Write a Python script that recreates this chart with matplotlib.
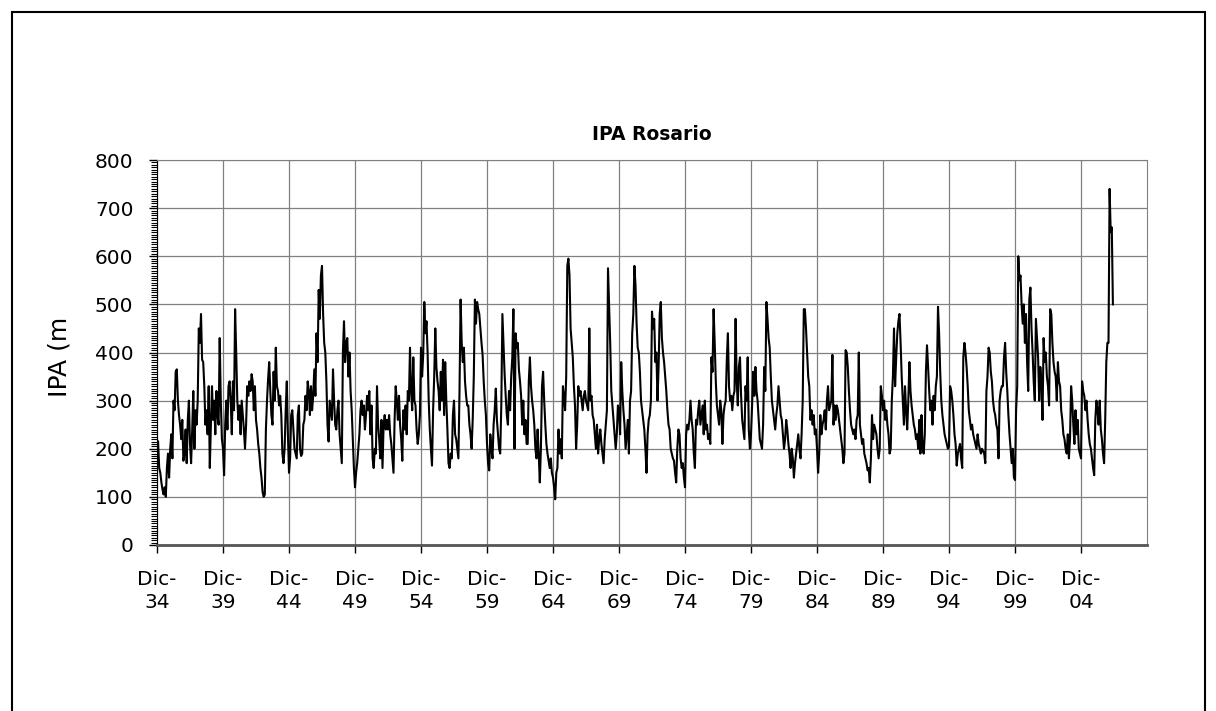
import numpy as np
import matplotlib.pyplot as plt
from matplotlib.ticker import MultipleLocator
from matplotlib.patches import Rectangle
from matplotlib.transforms import Bbox

# monthly IPA values (mm), Jan 1935 .. May 2007
ipa_1935_1944 = [
    215, 160, 150, 130, 115, 105, 120, 100, 160, 190, 140, 200,
    230, 180, 300, 280, 360, 365, 300, 270, 250, 220, 260, 175,
    190, 240, 170, 260, 300, 210, 170, 240, 320, 200, 280, 250,
    300, 450, 420, 480, 385, 380, 330, 250, 280, 230, 330, 160,
    250, 330, 260, 300, 230, 320, 270, 250, 430, 300, 220, 200,
    145, 250, 300, 240, 330, 340, 300, 230, 340, 280, 490, 400,
    300, 260, 290, 230, 300, 270, 240, 200, 250, 330, 310, 340,
    320, 355, 340, 280, 330, 260, 240, 210, 190, 160, 140, 110,
    100, 105, 240, 300, 345, 380, 320, 270, 250, 360, 300, 410,
    330, 320, 290, 310, 270, 190, 170, 200, 280, 340, 230, 150,
]
ipa_1945_1954 = [
    180, 270, 280, 240, 200, 190, 180, 270, 290, 200, 185, 190,
    250, 260, 310, 280, 340, 320, 270, 330, 280, 310, 365, 310,
    440, 380, 530, 470, 560, 580, 480, 420, 400, 340, 250, 215,
    300, 280, 260, 365, 300, 250, 240, 280, 300, 230, 200, 170,
    400, 465, 380, 420, 430, 350, 400, 320, 280, 220, 160, 120,
    150, 170, 200, 230, 280, 300, 270, 290, 240, 270, 310, 280,
    320, 230, 290, 180, 160, 200, 190, 330, 250, 220, 180, 260,
    160, 250, 270, 240, 260, 240, 270, 230, 210, 180, 150, 260,
    330, 300, 260, 310, 250, 220, 175, 280, 240, 290, 230, 320,
    300, 410, 320, 280, 390, 300, 290, 240, 210, 230, 270, 410,
]
ipa_1955_1964 = [
    350, 395, 505, 440, 465, 400, 300, 240, 200, 165, 280, 350,
    450, 370, 340, 320, 280, 360, 300, 385, 270, 380, 300, 240,
    170, 160, 190, 180, 270, 300, 230, 220, 200, 180, 320, 510,
    420, 380, 410, 340, 310, 290, 290, 250, 230, 200, 260, 350,
    510, 460, 505, 490, 480, 450, 420, 395, 340, 300, 270, 210,
    170, 155, 230, 200, 180, 250, 280, 325, 260, 230, 200, 190,
    290, 480, 420, 355, 310, 270, 250, 320, 280, 350, 390, 490,
    200, 440, 410, 420, 365, 340, 310, 250, 300, 230, 260, 210,
    210, 340, 390, 330, 300, 280, 250, 200, 180, 240, 190, 130,
    200, 330, 360, 300, 250, 210, 190, 175, 160, 180, 150, 140,
]
ipa_1965_1974 = [
    120, 95, 150, 160, 240, 190, 220, 180, 330, 310, 280, 350,
    580, 595, 560, 450, 420, 390, 330, 290, 200, 250, 330, 310,
    320, 300, 280, 310, 320, 300, 290, 280, 450, 300, 310, 270,
    260, 230, 200, 250, 190, 220, 240, 210, 190, 170, 220, 250,
    280, 575, 500, 420, 320, 290, 260, 230, 200, 230, 290, 280,
    230, 380, 320, 280, 250, 200, 230, 260, 190, 300, 320, 440,
    480, 580, 540, 460, 410, 400, 360, 300, 280, 260, 240, 200,
    150, 230, 260, 270, 300, 485, 450, 470, 380, 400, 300, 370,
    480, 505, 430, 400, 380, 350, 320, 280, 250, 240, 200, 190,
    180, 175, 150, 130, 200, 240, 230, 180, 160, 170, 140, 120,
]
ipa_1975_1984 = [
    230, 250, 240, 260, 300, 260, 240, 190, 160, 260, 250, 280,
    300, 250, 270, 290, 230, 300, 240, 250, 220, 230, 210, 390,
    360, 490, 420, 340, 290, 270, 250, 300, 280, 210, 270, 290,
    300, 385, 440, 330, 300, 310, 280, 310, 320, 470, 340, 290,
    370, 390, 310, 260, 240, 220, 330, 300, 390, 240, 200, 230,
    290, 360, 310, 370, 320, 300, 260, 220, 210, 200, 250, 370,
    320, 505, 470, 430, 410, 350, 300, 280, 260, 240, 270, 290,
    330, 300, 270, 260, 230, 200, 220, 260, 240, 210, 190, 160,
    200, 180, 140, 170, 190, 210, 230, 200, 180, 230, 300, 490,
    490, 450, 400, 350, 330, 260, 280, 250, 270, 230, 240, 200,
]
ipa_1985_1994 = [
    150, 190, 270, 230, 250, 260, 280, 240, 300, 330, 280, 290,
    300, 395, 250, 290, 260, 290, 280, 260, 240, 220, 200, 170,
    190, 405, 400, 370, 320, 280, 250, 240, 230, 240, 220, 260,
    270, 400, 250, 230, 210, 220, 190, 180, 170, 155, 160, 130,
    180, 270, 220, 250, 240, 230, 200, 180, 200, 330, 310, 280,
    300, 260, 280, 250, 230, 190, 200, 300, 350, 450, 330, 390,
    440, 465, 480, 420, 350, 300, 250, 330, 280, 240, 300, 380,
    320, 290, 270, 250, 240, 220, 230, 200, 260, 190, 270, 200,
    190, 230, 360, 415, 370, 320, 280, 300, 250, 310, 280, 330,
    350, 495, 440, 360, 300, 270, 250, 230, 220, 210, 200, 205,
]
ipa_1995_2007 = [
    330, 320, 300, 270, 230, 210, 165, 190, 200, 210, 180, 160,
    390, 420, 400, 370, 330, 280, 260, 240, 250, 230, 220, 210,
    200, 230, 210, 200, 190, 200, 195, 190, 170, 320, 350, 410,
    400, 360, 340, 300, 280, 270, 250, 240, 180, 300, 320, 330,
    330, 390, 420, 360, 320, 270, 230, 200, 170, 200, 140, 135,
    280, 330, 600, 550, 560, 500, 460, 500, 420, 480, 380, 320,
    510, 535, 450, 400, 340, 300, 470, 430, 390, 300, 370, 340,
    260, 430, 380, 400, 350, 330, 290, 490, 480, 420, 380, 360,
    350, 300, 380, 340, 330, 280, 260, 230, 220, 200, 190, 230,
    180, 220, 330, 300, 250, 210, 280, 230, 260, 200, 190, 180,
    340, 320, 310, 280, 300, 260, 230, 210, 200, 180, 160, 145,
    260, 300, 280, 250, 300, 240, 220, 190, 170, 260, 380, 420,
    420, 740, 650, 660, 500,
]

tick_years = ['34', '39', '44', '49', '54', '59', '64', '69',
              '74', '79', '84', '89', '94', '99', '04']

ipa = np.array(ipa_1935_1944 + ipa_1945_1954 + ipa_1955_1964 + ipa_1965_1974
               + ipa_1975_1984 + ipa_1985_1994 + ipa_1995_2007)
months = np.arange(1, len(ipa) + 1)   # months after Dec 1934

W, H = 1216, 711
fig = plt.figure(figsize=(W / 100, H / 100), dpi=100)
ax = fig.add_axes([157 / W, 1 - 545 / H, 990 / W, 385 / H])

ax.plot(months, ipa, color='black', lw=1.5)

ax.set_xlim(0, 900)
ax.set_ylim(0, 800)
ax.set_xticks(np.arange(len(tick_years)) * 60)
ax.set_xticklabels(['Dic-\n' + y for y in tick_years], linespacing=1.3)
ax.set_yticks(np.arange(0, 801, 100))
ax.yaxis.set_minor_locator(MultipleLocator(5))

ax.grid(True, which='major', color='#808080', lw=0.9)
ax.set_axisbelow(True)
ax.tick_params(axis='y', which='major', direction='out', length=6, width=1,
               pad=11, labelsize=14.5)
ax.tick_params(axis='y', which='minor', direction='out', length=4, width=0.8)
ax.tick_params(axis='x', direction='out', length=6, width=1, pad=12,
               labelsize=14.5)

ax.spines['left'].set_color('black')
ax.spines['bottom'].set_color('#555555')
ax.spines['bottom'].set_linewidth(2)
ax.spines['top'].set_color('#808080')
ax.spines['right'].set_color('#808080')

fig.text(652 / W, 1 - 135 / H, 'IPA Rosario', ha='center', va='center',
         fontsize=13.5, fontweight='bold')

# y label is cut off in the original
ylab = fig.text(60 / W, 1 - 397 / H, 'IPA (mm)', rotation=90, ha='center',
                va='bottom', fontsize=18)
ylab.set_clip_box(Bbox([[0, 0], [150, H - 317]]))
ylab.set_clip_on(True)

# outer chart frame
fig.add_artist(Rectangle((12 / W, -0.05), (1205 - 12) / W, 1 - 12 / H + 0.05,
                         transform=fig.transFigure, fill=False,
                         edgecolor='black', lw=1.5))

fig.savefig('out.png', dpi=100)
